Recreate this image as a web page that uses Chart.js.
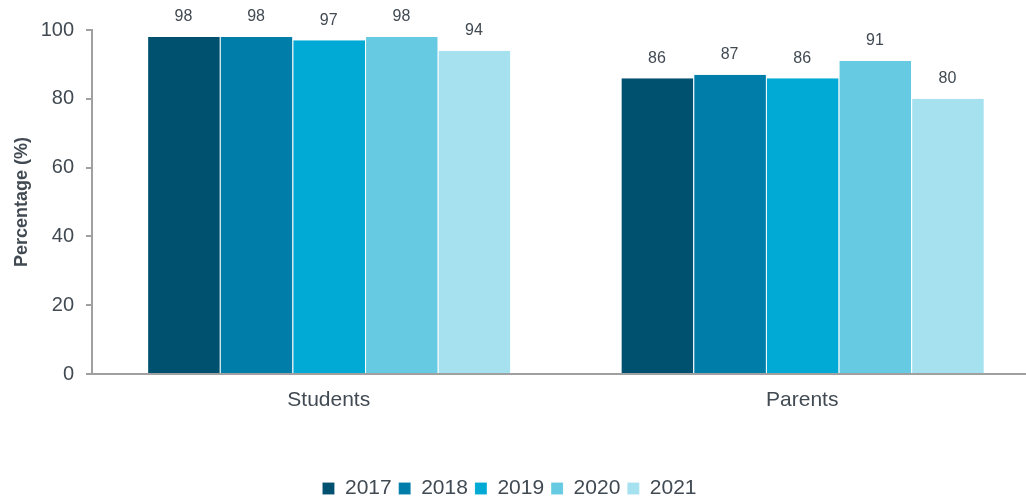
<!DOCTYPE html>
<html>
<head>
<meta charset="utf-8">
<script src="https://cdn.jsdelivr.net/npm/chart.js@4/dist/chart.umd.min.js"></script>
<style>
  html, body { margin: 0; background: #fff; overflow: hidden; }
  #wrap { width: 1040px; height: 509px; }
</style>
</head>
<body>
<div id="wrap"><canvas id="survey-chart" width="1040" height="509"></canvas></div>
<script>
  // Respondent groups and survey years
  const groups = ['Students', 'Parents'];
  const years = ['2017', '2018', '2019', '2020', '2021'];
  const colors = ['#00506f', '#007ea9', '#00aad4', '#66cbe2', '#a6e1ef'];

  // Percentage per year, ordered as in groups
  const values2017 = [98, 86];
  const values2018 = [98, 87];
  const values2019 = [97, 86];
  const values2020 = [98, 91];
  const values2021 = [94, 80];
  const seriesValues = [values2017, values2018, values2019, values2020, values2021];

  const textColor = '#414a52';
  const axisColor = '#a0a0a0';
  Chart.defaults.font.family = '"Liberation Sans", Arial, sans-serif';
  Chart.defaults.color = textColor;

  // Value labels above each bar
  const barValues = {
    id: 'barValues',
    afterDatasetsDraw(chart) {
      const ctx = chart.ctx;
      ctx.save();
      ctx.font = '16px "Liberation Sans", Arial, sans-serif';
      ctx.fillStyle = textColor;
      ctx.textAlign = 'center';
      ctx.textBaseline = 'middle';
      chart.data.datasets.forEach((ds, i) => {
        chart.getDatasetMeta(i).data.forEach((bar, j) => {
          ctx.fillText(ds.data[j], bar.x, bar.y - 20);
        });
      });
      ctx.restore();
    }
  };

  // nudge the legend a little left of the canvas centre
  const legendShift = {
    id: 'legendShift',
    afterLayout(chart) {
      if (chart.legend) {
        chart.legend.left -= 10;
        chart.legend.right -= 10;
      }
    }
  };

  const datasets = years.map((year, i) => ({
    label: year,
    data: seriesValues[i],
    backgroundColor: colors[i],
    borderColor: 'rgba(255,255,255,0.6)',
    borderWidth: { left: 1, right: 0, top: 0, bottom: 0 },
    categoryPercentage: 0.767,
    barPercentage: 1
  }));

  new Chart(document.getElementById('survey-chart').getContext('2d'), {
    type: 'bar',
    data: { labels: groups, datasets: datasets },
    plugins: [barValues, legendShift],
    options: {
      responsive: false,
      animation: false,
      layout: { padding: { top: 30, right: 1, left: 0, bottom: 0 } },
      plugins: {
        tooltip: { enabled: false },
        legend: {
          position: 'bottom',
          labels: {
            font: { size: 21 },
            color: textColor,
            boxWidth: 12,
            boxHeight: 12,
            padding: 7
          }
        }
      },
      scales: {
        x: {
          grid: { display: false },
          border: { color: axisColor, width: 2 },
          ticks: { font: { size: 21 }, color: textColor, padding: 6 },
          afterFit(scale) { scale.height = 97; }
        },
        y: {
          min: 0,
          max: 100,
          ticks: { stepSize: 20, font: { size: 20 }, color: textColor, padding: 12 },
          grid: { drawOnChartArea: false, tickLength: 6, color: axisColor, lineWidth: 2 },
          border: { color: axisColor, width: 2 },
          title: {
            display: true,
            text: 'Percentage (%)',
            font: { size: 18, weight: 'bold' },
            color: textColor,
            padding: { top: 11, bottom: 0 }
          },
          afterFit(scale) { scale.width = 92; }
        }
      }
    }
  });
</script>
</body>
</html>
